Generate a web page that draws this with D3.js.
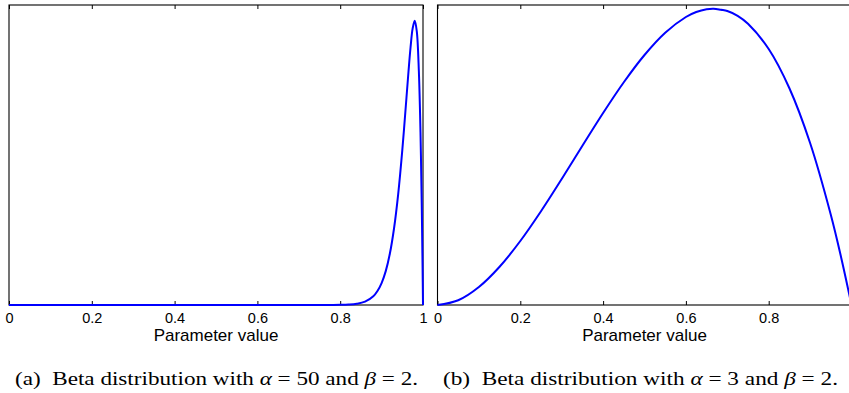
<!DOCTYPE html>
<html>
<head>
<meta charset="utf-8">
<script src="https://cdn.jsdelivr.net/npm/d3@7"></script>
<style>
  html, body { margin: 0; padding: 0; background: #fff; }
  svg { display: block; }
</style>
</head>
<body>
<svg id="chart" width="849" height="393"></svg>
<script>
// ---- data ----
const xTickValues = [0, 0.2, 0.4, 0.6, 0.8, 1];
const xLabel = "Parameter value";

// Panel (a): Beta(50, 2) density
const aX = [0, 0.1, 0.2, 0.3, 0.4, 0.5, 0.6, 0.7, 0.75, 0.78, 0.8, 0.82, 0.84, 0.86, 0.88, 0.89, 0.9, 0.91, 0.92, 0.93, 0.94, 0.95, 0.96, 0.965, 0.97, 0.975, 0.98, 0.985, 0.99, 0.993, 0.995, 0.997, 0.999, 1];
const aY = [0, 0, 0, 0, 0, 0, 0, 0, 0.0005, 0.003, 0.009, 0.027, 0.08, 0.22, 0.58, 0.93, 1.46, 2.26, 3.43, 5.10, 7.38, 10.33, 13.80, 15.57, 17.20, 18.44, 18.95, 18.24, 15.58, 12.65, 9.97, 6.60, 2.43, 0];
const aYMax = 20;

// Panel (b): Beta(3, 2) density
const bX = [0, 0.05, 0.1, 0.15, 0.2, 0.25, 0.3, 0.35, 0.4, 0.45, 0.5, 0.55, 0.6, 0.625, 0.65, 0.667, 0.685, 0.7, 0.725, 0.75, 0.8, 0.85, 0.9, 0.95, 0.975, 1];
const bY = [0, 0.0285, 0.108, 0.2295, 0.384, 0.5625, 0.756, 0.9555, 1.152, 1.3365, 1.5, 1.6335, 1.728, 1.758, 1.7745, 1.7778, 1.771, 1.764, 1.735, 1.6875, 1.536, 1.3005, 0.972, 0.5415, 0.2852, 0];
const bYMax = 1.8;

const captionA = ["(a)  Beta distribution with ", "α", " = 50 and ", "β", " = 2."];
const captionB = ["(b)  Beta distribution with ", "α", " = 3 and ", "β", " = 2."];

// ---- drawing ----
const svg = d3.select("#chart");
const plotTop = 5, plotH = 300, plotW = 414;

function panel(left, xs, ys, yMax, caption, capX, capLen, labelTicks) {
  const x = d3.scaleLinear().domain([0, 1]).range([left, left + plotW]);
  const y = d3.scaleLinear().domain([0, yMax]).range([plotTop + plotH, plotTop]);
  const g = svg.append("g");

  // frame
  g.append("rect")
    .attr("x", left).attr("y", plotTop)
    .attr("width", plotW).attr("height", plotH)
    .attr("fill", "none").attr("stroke", "#000").attr("stroke-width", 1.1);

  // bottom axis (inward ticks, labels)
  const bottom = g.append("g")
    .attr("transform", `translate(0,${plotTop + plotH})`)
    .call(d3.axisBottom(x).tickValues(xTickValues)
      .tickSizeInner(-4).tickSizeOuter(0).tickPadding(8)
      .tickFormat(d => labelTicks.includes(d) ? ((d === 0 || d === 1) ? String(d) : d.toFixed(1)) : ""));
  bottom.select(".domain").remove();
  bottom.selectAll("text")
    .attr("font-family", "Liberation Sans, Arial, sans-serif")
    .attr("font-size", 14.5).attr("fill", "#000");
  bottom.selectAll("line").attr("stroke", "#000");

  // top axis (inward ticks, no labels)
  const topAx = g.append("g")
    .attr("transform", `translate(0,${plotTop})`)
    .call(d3.axisTop(x).tickValues(xTickValues)
      .tickSizeInner(-4).tickSizeOuter(0).tickFormat(""));
  topAx.select(".domain").remove();
  topAx.selectAll("line").attr("stroke", "#000");

  // x label
  g.append("text")
    .attr("x", left + plotW / 2).attr("y", 341)
    .attr("text-anchor", "middle")
    .attr("font-family", "Liberation Sans, Arial, sans-serif")
    .attr("font-size", 17)
    .text(xLabel);

  // curve
  const pts = xs.map((v, i) => [v, ys[i]]);
  g.append("path")
    .datum(pts)
    .attr("fill", "none")
    .attr("stroke", "#0000ff")
    .attr("stroke-width", 2)
    .attr("stroke-linejoin", "round")
    .attr("d", d3.line().x(d => x(d[0])).y(d => y(d[1])).curve(d3.curveCatmullRom.alpha(0.5)));

  // caption
  const t = svg.append("text")
    .attr("x", capX).attr("y", 385)
    .attr("font-family", "Liberation Serif, Times New Roman, serif")
    .attr("font-size", 18.5)
    .attr("textLength", capLen)
    .attr("lengthAdjust", "spacingAndGlyphs")
    .attr("xml:space", "preserve")
    .style("white-space", "pre");
  caption.forEach((s, i) => {
    t.append("tspan").attr("font-style", (i === 1 || i === 3) ? "italic" : "normal").text(s);
  });
}

panel(9, aX, aY, aYMax, captionA, 15, 403, [0, 0.2, 0.4, 0.6, 0.8, 1]);
// the right panel is cropped at the page edge, so its "1" label is not visible
panel(437.5, bX, bY, bYMax, captionB, 443, 395, [0, 0.2, 0.4, 0.6, 0.8]);
</script>
</body>
</html>
